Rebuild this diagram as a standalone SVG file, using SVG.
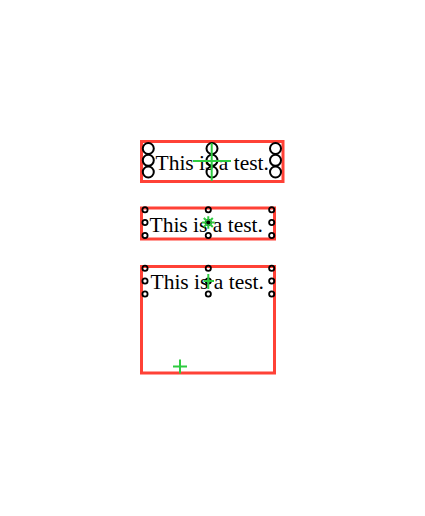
<svg xmlns="http://www.w3.org/2000/svg" width="425" height="516" viewBox="0 0 425 516">
<style>
.box{fill:none;stroke:#ff4136;stroke-width:3}
.t{font-family:"Liberation Serif",serif;font-size:21.5px;fill:#000}
.big{fill:none;stroke:#000;stroke-width:2}
.sm{fill:none;stroke:#000;stroke-width:1.8}
.g{stroke:#2ecc40;stroke-width:2;fill:none}
</style>
<rect width="425" height="516" fill="#fff"/>
<g id="node1">
<rect class="box" x="141.5" y="141.5" width="141.5" height="40"/>
<text class="t" x="155.5" y="169.5">This is a test.</text>
<g class="big">
<circle cx="148.3" cy="148.5" r="5.5"/><circle cx="148.3" cy="160.3" r="5.5"/><circle cx="148.3" cy="172" r="5.5"/>
<circle cx="212" cy="148.5" r="5.5"/><circle cx="212" cy="160.3" r="5.5"/><circle cx="212" cy="172" r="5.5"/>
<circle cx="275.5" cy="148.5" r="5.5"/><circle cx="275.5" cy="160.3" r="5.5"/><circle cx="275.5" cy="172" r="5.5"/>
</g>
<path class="g" d="M193 161H231M211.7 143V181"/>
</g>
<g id="node2">
<rect class="box" x="141.5" y="208" width="133" height="31"/>
<text class="t" x="149.5" y="231.5">This is a test.</text>
<g class="sm">
<circle cx="145" cy="209.7" r="2.6"/><circle cx="145" cy="222.5" r="2.6"/><circle cx="145" cy="235.5" r="2.6"/>
<circle cx="208.3" cy="209.7" r="2.6"/><circle cx="208.3" cy="222.5" r="2.6"/><circle cx="208.3" cy="235.5" r="2.6"/>
<circle cx="271.7" cy="209.7" r="2.6"/><circle cx="271.7" cy="222.5" r="2.6"/><circle cx="271.7" cy="235.5" r="2.6"/>
</g>
<path class="g" stroke-width="1.5" d="M202 222.5H214.6M208.3 216.2V228.8M203.8 218L212.8 227M203.8 227L212.8 218"/>
<circle cx="208.3" cy="222.5" r="2" fill="#000"/>
</g>
<g id="node3">
<rect class="box" x="141.5" y="266.5" width="133" height="106.5"/>
<text class="t" x="150.5" y="288.5">This is a test.</text>
<g class="sm">
<circle cx="145" cy="268.3" r="2.6"/><circle cx="145" cy="281" r="2.6"/><circle cx="145" cy="294" r="2.6"/>
<circle cx="208.3" cy="268.3" r="2.6"/><circle cx="208.3" cy="281" r="2.6"/><circle cx="208.3" cy="294" r="2.6"/>
<circle cx="271.7" cy="268.3" r="2.6"/><circle cx="271.7" cy="281" r="2.6"/><circle cx="271.7" cy="294" r="2.6"/>
</g>
<path class="g" d="M203.5 281H214M208.3 274V289"/>
<path class="g" d="M173 366.5H187M180 359.5V373.5"/>
</g>
</svg>
